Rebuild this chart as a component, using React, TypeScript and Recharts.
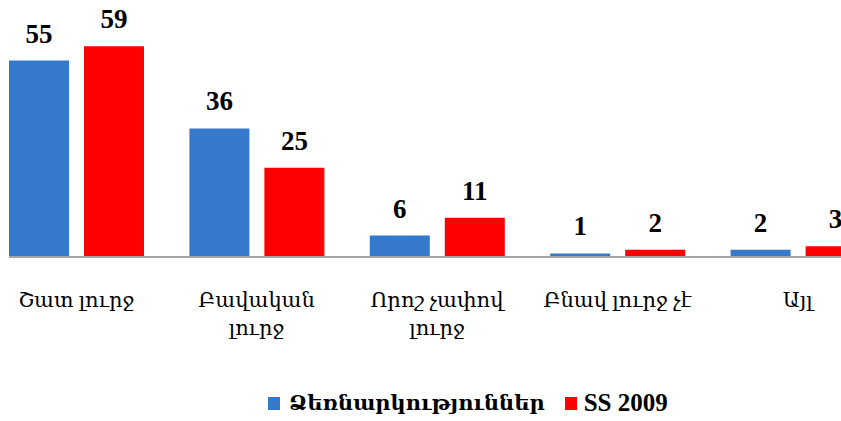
import React from "react";
import { BarChart, Bar, XAxis, YAxis, Legend, LabelList } from "recharts";

const categories = ["Շատ լուրջ", "Բավական\nլուրջ", "Որոշ չափով\nլուրջ", "Բնավ լուրջ չէ", "Այլ"];
const enterprises = [55, 36, 6, 1, 2];
const ss2009 = [59, 25, 11, 2, 3];
const seriesNames = ["Ձեռնարկություններ", "SS 2009"];
const colors = ["#3579CD", "#FF0000"];

const data = categories.map((c, i) => ({ name: c, a: enterprises[i], b: ss2009[i] }));

const armFont = "'Liberation Serif', 'DejaVu Serif', serif";
const numFont = "'Liberation Serif', 'Times New Roman', serif";

const Tick = (props: any) => {
  const { x, y, payload } = props;
  const lines = String(payload.value).split("\n");
  return (
    <text x={x} y={y} textAnchor="middle" fontFamily={armFont} fontSize={21} fill="#000">
      {lines.map((l: string, i: number) => (
        <tspan key={i} x={x} dy={i === 0 ? 50 : 28}>
          {l}
        </tspan>
      ))}
    </text>
  );
};

const LegendContent = () => (
  <div
    style={{
      height: 36,
      display: "flex",
      alignItems: "center",
      justifyContent: "flex-start",
      paddingLeft: 282,
      fontFamily: armFont,
      fontWeight: "bold",
      fontSize: 21,
      color: "#000",
      whiteSpace: "nowrap",
    }}
  >
    {seriesNames.map((n, i) => (
      <div key={n} style={{ display: "flex", alignItems: "center", marginRight: 20 }}>
        <div style={{ width: 12, height: 13, background: colors[i], marginRight: i === 0 ? 9 : 7 }} />
        <span style={{ fontSize: i === 1 ? 25 : 21 }}>{n}</span>
      </div>
    ))}
  </div>
);

export default function App() {
  return (
    <div
      style={{
        position: "absolute",
        left: 9,
        top: 0,
        width: 832,
        height: 421,
        overflow: "hidden",
        background: "#fff",
      }}
    >
      <div style={{ marginLeft: -23 }}>
        <BarChart
          width={902}
          height={421}
          data={data}
          margin={{ top: 7, right: 0, bottom: 0, left: 0 }}
          barSize={60}
          barGap={15}
        >
          <YAxis hide domain={[0, 70]} />
          <XAxis
            dataKey="name"
            height={128}
            tickLine={false}
            tickSize={0}
            tickMargin={0}
            interval={0}
            axisLine={{ stroke: "#A6A6A6", strokeWidth: 2 }}
            tick={<Tick />}
          />
          <Legend verticalAlign="bottom" content={<LegendContent />} />
          <Bar dataKey="a" name={seriesNames[0]} fill={colors[0]} isAnimationActive={false}>
            <LabelList dataKey="a" position="top" offset={18} fontFamily={numFont} fontWeight="bold" fontSize={27} fill="#000" />
          </Bar>
          <Bar dataKey="b" name={seriesNames[1]} fill={colors[1]} isAnimationActive={false}>
            <LabelList dataKey="b" position="top" offset={18} fontFamily={numFont} fontWeight="bold" fontSize={27} fill="#000" />
          </Bar>
        </BarChart>
      </div>
    </div>
  );
}
